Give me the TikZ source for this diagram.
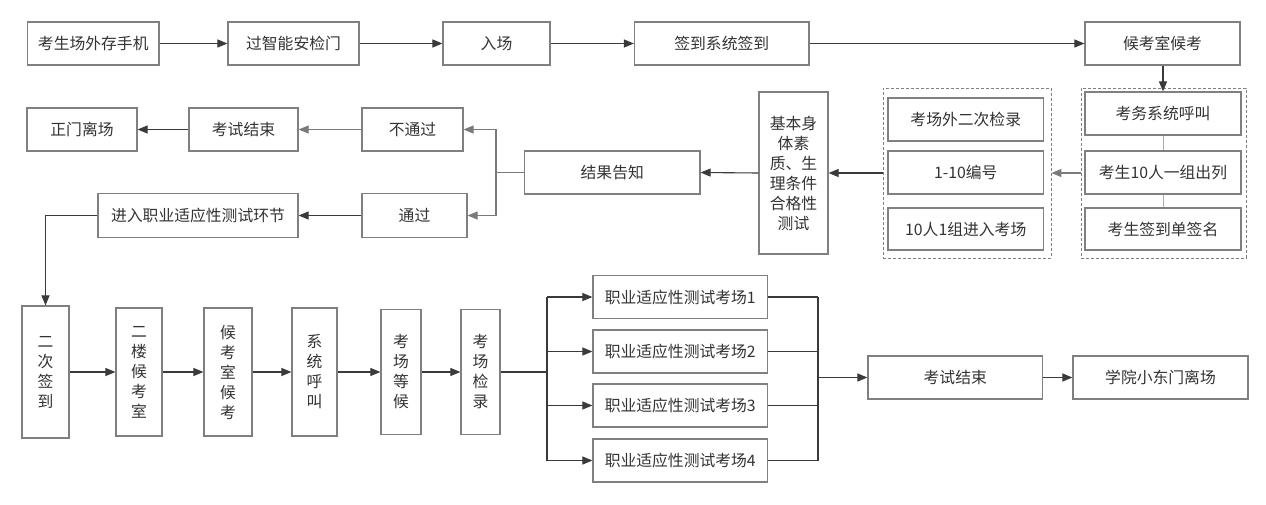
\documentclass[tikz,border=0pt]{standalone}
\usepackage{fontspec}
\setmainfont{Noto Sans CJK SC}
\usetikzlibrary{arrows.meta}
\definecolor{boxgray}{HTML}{808080}
\definecolor{txtgray}{HTML}{333333}
\definecolor{linedark}{HTML}{3A3A3A}
\definecolor{linegray}{HTML}{7A7A7A}
\definecolor{linelight}{HTML}{AAAAAA}
\newcommand\myfs{\fontsize{15.8}{20}\selectfont}
\begin{document}
\begin{tikzpicture}[x=1pt,y=-1pt,
  box/.style={draw=boxgray, line width=1.2pt, text=txtgray, inner sep=0pt, align=center, font=\myfs},
  grp/.style={draw=boxgray, line width=0.9pt, dash pattern=on 3pt off 2pt},
  conn/.style={draw=linedark, line width=1.1pt},
  arr/.style={conn, -{Triangle[length=10pt,width=8pt]}},
  garr/.style={draw=linegray, line width=1.1pt, -{Triangle[length=10pt,width=8pt]}},
  gconn/.style={draw=linegray, line width=1.1pt},
  lconn/.style={draw=linelight, line width=0.9pt}]
\useasboundingbox (0,0) rectangle (1266,504);
\fill[white] (0,0) rectangle (1266,504);

% row 1
\node[box, minimum width=131.5pt, minimum height=43pt] (a1) at (93.25,43.5) {考生场外存手机};
\node[box, minimum width=131pt, minimum height=43pt] (a2) at (293.5,43.5) {过智能安检门};
\node[box, minimum width=107pt, minimum height=43pt] (a3) at (496.5,43.5) {入场};
\node[box, minimum width=174.5pt, minimum height=43pt] (a4) at (721.75,43.5) {签到系统签到};
\node[box, minimum width=155pt, minimum height=43pt] (a5) at (1162.5,43.5) {候考室候考};

% group 2
\node[grp, minimum width=165pt, minimum height=170pt] (g2) at (1163.5,173) {};
\node[box, minimum width=156pt, minimum height=43pt] (g2a) at (1163,113.5) {考务系统呼叫};
\node[box, minimum width=156pt, minimum height=43pt] (g2b) at (1163,172.5) {考生10人一组出列};
\node[box, minimum width=156pt, minimum height=42pt] (g2c) at (1163,229) {考生签到单签名};

% group 1
\node[grp, minimum width=168pt, minimum height=170pt] (g1) at (967,173) {};
\node[box, minimum width=155.5pt, minimum height=43pt] (g1a) at (965.75,119.5) {考场外二次检录};
\node[box, minimum width=155.5pt, minimum height=43pt] (g1b) at (965.75,172.5) {1-10编号};
\node[box, minimum width=155.5pt, minimum height=42pt] (g1c) at (965.75,229) {10人1组进入考场};

% middle row
\node[box, minimum width=69pt, minimum height=162pt] (jb) at (793.5,173) {基本身\\体素\\质、生\\理条件\\合格性\\测试};
\node[box, minimum width=175.5pt, minimum height=43pt] (res) at (612.25,172.5) {结果告知};
\node[box, minimum width=101pt, minimum height=43pt] (fail) at (412.5,129.5) {不通过};
\node[box, minimum width=109pt, minimum height=43pt] (end1) at (243.5,129.5) {考试结束};
\node[box, minimum width=110pt, minimum height=43pt] (exit1) at (82,129.5) {正门离场};
\node[box, minimum width=105pt, minimum height=44pt] (pass) at (414.5,215.5) {通过};
\node[box, minimum width=200pt, minimum height=44pt] (enter) at (198,215.5) {进入职业适应性测试环节};

% bottom row
\node[box, minimum width=47pt, minimum height=132pt] (b1) at (45.5,372) {二\\次\\签\\到};
\node[box, minimum width=46pt, minimum height=128pt] (b2) at (139,372) {二\\楼\\候\\考\\室};
\node[box, minimum width=48pt, minimum height=128pt] (b3) at (228,372) {候\\考\\室\\候\\考};
\node[box, minimum width=45pt, minimum height=128pt] (b4) at (314.5,372) {系\\统\\呼\\叫};
\node[box, minimum width=40pt, minimum height=125pt] (b5) at (401,372) {考\\场\\等\\候};
\node[box, minimum width=39pt, minimum height=125pt] (b6) at (480.5,372) {考\\场\\检\\录};

\node[box, minimum width=174.5pt, minimum height=43pt] (r1) at (680.25,297) {职业适应性测试考场1};
\node[box, minimum width=174.5pt, minimum height=43pt] (r2) at (680.25,351.5) {职业适应性测试考场2};
\node[box, minimum width=174.5pt, minimum height=43pt] (r3) at (680.25,405.5) {职业适应性测试考场3};
\node[box, minimum width=174.5pt, minimum height=43pt] (r4) at (680.25,460.5) {职业适应性测试考场4};

\node[box, minimum width=174.5pt, minimum height=43pt] (e1) at (955.25,377.5) {考试结束};
\node[box, minimum width=175pt, minimum height=43pt] (e2) at (1160.5,377.5) {学院小东门离场};

\coordinate (busA) at (496,172.5);
\coordinate (busL) at (547,372);
\coordinate (busR) at (818,377.5);

% connectors row 1
\draw[arr] (a1) -- (a2);
\draw[arr] (a2) -- (a3);
\draw[arr] (a3) -- (a4);
\draw[arr] (a4) -- (a5);
\draw[arr] (a5.south -| g2a.north) -- (g2a.north);
\draw[lconn] (g2a) -- (g2b);
\draw[lconn] (g2b) -- (g2c);
\draw[garr] (g2.west) -- (g1.east);
\draw[arr] (g1.west) -- (jb.east);
\draw[arr] (jb.west) -- (res.east);
\draw[gconn] (res.west) -- (busA);
\draw[garr] (busA) |- (fail.east);
\draw[garr] (busA) |- (pass.east);
\draw[garr] (fail) -- (end1);
\draw[arr] (end1) -- (exit1);
\draw[arr] (pass) -- (enter);
\draw[arr] (enter.west) -| (b1.north);

% bottom row
\draw[arr] (b1) -- (b2);
\draw[arr] (b2) -- (b3);
\draw[arr] (b3) -- (b4);
\draw[arr] (b4) -- (b5);
\draw[arr] (b5) -- (b6);
\draw[conn] (b6.east) -- (busL);
\draw[conn] (busL |- r1) -- (busL |- r4);
\draw[arr] (busL |- r1) -- (r1.west);
\draw[arr] (busL |- r2) -- (r2.west);
\draw[arr] (busL |- r3) -- (r3.west);
\draw[arr] (busL |- r4) -- (r4.west);
\draw[conn] (r1.east) -- (busR |- r1);
\draw[conn] (r2.east) -- (busR |- r2);
\draw[conn] (r3.east) -- (busR |- r3);
\draw[conn] (r4.east) -- (busR |- r4);
\draw[conn] (busR |- r1) -- (busR |- r4);
\draw[arr] (busR) -- (e1.west);
\draw[arr] (e1) -- (e2);
\end{tikzpicture}
\end{document}
